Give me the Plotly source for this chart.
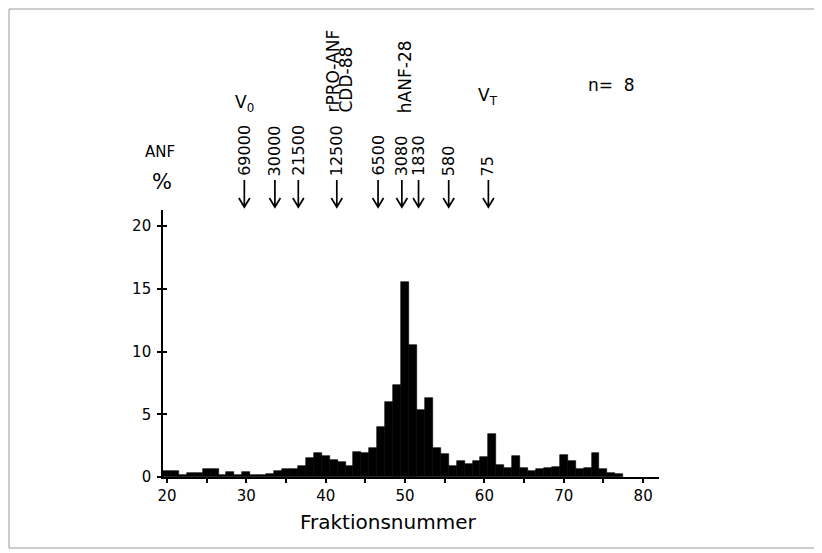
import plotly.graph_objects as go

# ---------------- data ----------------
fractions = list(range(20, 78))
anf_percent = [
    0.45, 0.45, 0.15, 0.30, 0.30, 0.60, 0.60, 0.15, 0.40, 0.15,   # 20-29
    0.40, 0.15, 0.15, 0.20, 0.50, 0.65, 0.60, 0.85, 1.55, 1.95,   # 30-39
    1.65, 1.35, 1.20, 0.90, 2.00, 1.95, 2.30, 4.00, 6.00, 7.35,   # 40-49
    15.50, 10.55, 5.35, 6.30, 2.35, 1.80, 0.90, 1.30, 1.05, 1.27, # 50-59
    1.60, 3.40, 0.93, 0.72, 1.67, 0.70, 0.50, 0.60, 0.70, 0.77,   # 60-69
    1.72, 1.27, 0.60, 0.70, 1.88, 0.60, 0.35, 0.25,               # 70-77
]

x_major_ticks = [20, 30, 40, 50, 60, 70, 80]
x_major_text = ["20", "30", "40", "50", "60", "70", "80"]
x_minor_ticks = [25, 35, 45, 55, 65, 75]
y_tickvals = [0, 5, 10, 15, 20]
y_ticktext = ["0", "5", "10", "15", "20"]

# calibration markers (fraction position, molecular weight)
marker_pos = [29.75, 33.6, 36.55, 41.4, 46.6, 49.6, 51.7, 55.5, 60.5]
marker_mw = ["69000", "30000", "21500", "12500", "6500", "3080", "1830", "580", "75"]

# named peptide labels above markers
peptide_pos = [40.8, 42.5, 49.95]
peptide_text = ["rPRO-ANF", "CDD-88", "hANF-28"]
v0_pos = 29.75
vt_pos = 60.5

FONT = "DejaVu Sans"
OFF = 8  # page body margin offset

# ---------------- figure ----------------
fig = go.Figure()
fig.add_trace(go.Bar(
    x=fractions, y=anf_percent, width=1.0,
    marker=dict(color="black", line=dict(color="black", width=0.6)),
    showlegend=False, hoverinfo="x+y",
))
# helper (invisible) trace so the crossing-tick axis is drawn
fig.add_trace(go.Scatter(
    x=fractions[:1], y=anf_percent[:1], yaxis="y2", mode="markers",
    marker=dict(opacity=0), showlegend=False, hoverinfo="skip",
))

# reference pixel -> paper coordinates (plot area in reference: x 163..659, y 210..477)
L, R, T, B = 163, 659, 210, 477
def py(p):
    return (B - p) / (B - T)
def px(p):
    return (p - L) / (R - L)

shapes = []
# arrows (line + open chevron head), in pixel size mode anchored at tip
for xm in marker_pos:
    shapes.append(dict(
        type="path", xref="x", yref="paper",
        xsizemode="pixel", ysizemode="pixel",
        xanchor=xm, yanchor=py(207),
        path="M0,27 L0,0 M-5.5,9 L0,0 L5.5,9",
        line=dict(color="black", width=1.7),
    ))
# outer frame
shapes.append(dict(type="rect", xref="paper", yref="paper",
                   x0=px(9), x1=px(815), y0=py(548), y1=py(9),
                   line=dict(color="#9a9a9a", width=1), layer="below"))

annotations = []
# molecular weights (rotated)
for xm, mw in zip(marker_pos, marker_mw):
    annotations.append(dict(
        x=xm, xref="x", y=py(178), yref="paper",
        text=mw, textangle=-90, showarrow=False,
        xanchor="center", yanchor="bottom",
        font=dict(family=FONT, size=16, color="black"),
    ))
# peptide labels
for xm, lab in zip(peptide_pos, peptide_text):
    annotations.append(dict(
        x=xm, xref="x", y=py(115), yref="paper",
        text=lab, textangle=-90, showarrow=False,
        xanchor="center", yanchor="bottom",
        font=dict(family=FONT, size=17, color="black"),
    ))
# V0, VT
annotations.append(dict(x=v0_pos, xref="x", y=py(104), yref="paper",
                        text="V<sub>0</sub>", showarrow=False,
                        xanchor="center", yanchor="middle",
                        font=dict(family=FONT, size=17, color="black")))
annotations.append(dict(x=vt_pos, xref="x", y=py(96), yref="paper",
                        text="V<sub>T</sub>", showarrow=False,
                        xanchor="center", yanchor="middle",
                        font=dict(family=FONT, size=17, color="black")))
# n = 8
annotations.append(dict(x=px(611), xref="paper", y=py(85), yref="paper",
                        text="n=  8", showarrow=False,
                        xanchor="center", yanchor="middle",
                        font=dict(family=FONT, size=17, color="black")))
# ANF %
annotations.append(dict(x=px(160), xref="paper", y=py(152), yref="paper",
                        text="ANF", showarrow=False,
                        xanchor="center", yanchor="middle",
                        font=dict(family=FONT, size=15, color="black")))
annotations.append(dict(x=px(162), xref="paper", y=py(182), yref="paper",
                        text="%", showarrow=False,
                        xanchor="center", yanchor="middle",
                        font=dict(family=FONT, size=21, color="black")))
# x title
annotations.append(dict(x=px(388), xref="paper", y=py(522), yref="paper",
                        text="Fraktionsnummer", showarrow=False,
                        xanchor="center", yanchor="middle",
                        font=dict(family=FONT, size=20, color="black")))

yr = [0, (B - T) / 12.55]
fig.update_layout(
    width=822, height=553,
    margin=dict(l=L - OFF, r=822 - R + OFF, t=T - OFF, b=553 - B + OFF, pad=0),
    paper_bgcolor="white", plot_bgcolor="white",
    bargap=0,
    font=dict(family=FONT, size=15, color="black"),
    xaxis=dict(
        range=[19.5, 82.0], showgrid=False, zeroline=False,
        showline=True, linecolor="black", linewidth=1.6,
        ticks="outside", ticklen=4, tickwidth=1.5, tickcolor="black",
        tickvals=x_major_ticks, ticktext=x_major_text,
        tickfont=dict(family=FONT, size=15, color="black"),
        minor=dict(tickvals=x_minor_ticks, ticks="outside", ticklen=4,
                   tickwidth=1.5, tickcolor="black", showgrid=False),
        fixedrange=True,
    ),
    yaxis=dict(
        range=yr, showgrid=False, zeroline=False,
        showline=True, linecolor="black", linewidth=1.6,
        ticks="outside", ticklen=4, tickwidth=1.5, tickcolor="black",
        tickvals=y_tickvals, ticktext=y_ticktext,
        tickfont=dict(family=FONT, size=15, color="black"),
        ticklabelstandoff=3,
        fixedrange=True,
    ),
    yaxis2=dict(
        range=yr, overlaying="y", side="left", anchor="x",
        showgrid=False, zeroline=False, showline=False,
        ticks="inside", ticklen=4, tickwidth=1.5, tickcolor="black",
        tickvals=y_tickvals, showticklabels=False, fixedrange=True,
    ),
    annotations=annotations,
    shapes=shapes,
)

fig.write_html("out.html")
